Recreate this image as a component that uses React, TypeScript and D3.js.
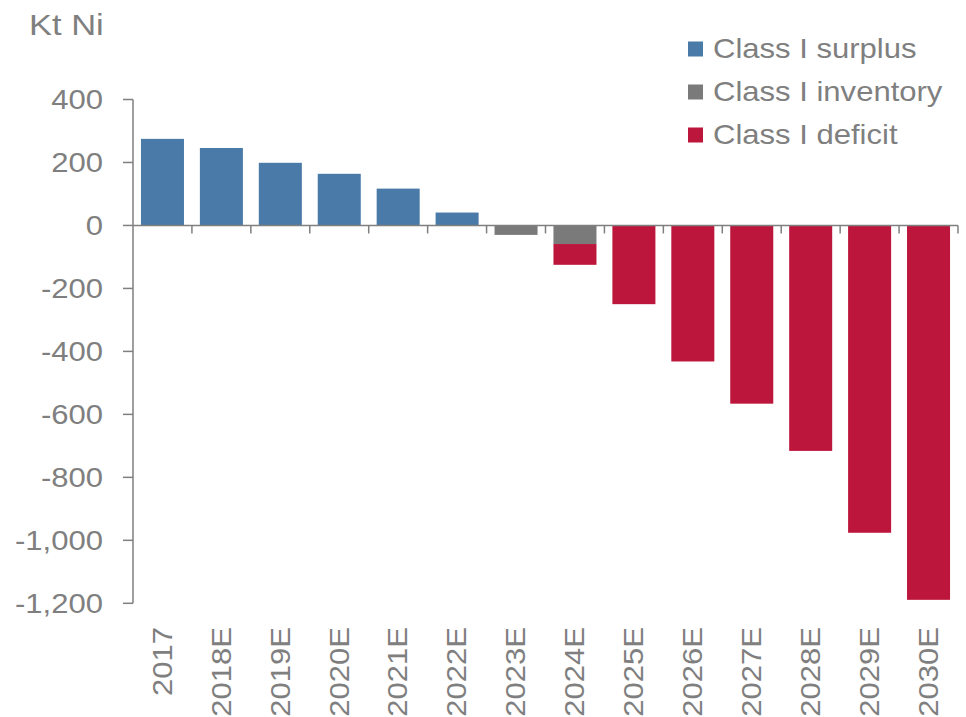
import { useRef, useEffect } from "react";
import * as d3 from "d3";

const years = ["2017", "2018E", "2019E", "2020E", "2021E", "2022E", "2023E", "2024E", "2025E", "2026E", "2027E", "2028E", "2029E", "2030E"];
const surplus = [275, 246, 199, 164, 117, 41, 0, 0, 0, 0, 0, 0, 0, 0];
const inventory = [0, 0, 0, 0, 0, 0, -30, -59, 0, 0, 0, 0, 0, 0];
const deficit = [0, 0, 0, 0, 0, 0, 0, -66, -250, -432, -566, -716, -976, -1189];
const yTicks = [400, 200, 0, -200, -400, -600, -800, -1000, -1200];
const seriesNames = ["Class I surplus", "Class I inventory", "Class I deficit"];
const seriesColors = ["#4a7aa7", "#7a7a7a", "#bd163c"];

const textColor = "#7f7f7f";
const FONT = "'Liberation Sans', Arial, sans-serif";
const SX = 1.15; // reference text is a bit wider than tall

export default function App() {
  const svgRef = useRef(null);

  useEffect(() => {
    const svg = d3.select(svgRef.current);
    svg.selectAll("*").remove();

    const width = 966;
    const height = 717;
    const left = 133, right = 958, top = 99.5, bottom = 603.3;

    const rows = years.map((y, i) => ({ year: y, surplus: surplus[i], inventory: inventory[i], deficit: deficit[i] }));
    const keys = ["surplus", "inventory", "deficit"];
    const stacked = d3.stack().keys(keys).offset(d3.stackOffsetDiverging)(rows);

    const x = d3.scaleBand().domain(years).range([left, right]).paddingInner(0.27).paddingOuter(0.135);
    const y = d3.scaleLinear().domain([-1200, 400]).range([bottom, top]);

    const addText = (g, str, tx, ty, anchor, rot = 0) =>
      g.append("text")
        .attr("transform", `translate(${tx},${ty}) rotate(${rot}) scale(${SX},1)`)
        .attr("text-anchor", anchor)
        .attr("dominant-baseline", "central")
        .attr("fill", textColor)
        .attr("font-family", FONT)
        .attr("font-size", 27)
        .text(str);

    // bars
    stacked.forEach((s, si) => {
      svg.append("g")
        .attr("fill", seriesColors[si])
        .selectAll("rect")
        .data(s.filter(d => d[0] !== d[1]))
        .join("rect")
        .attr("x", d => x(d.data.year))
        .attr("width", x.bandwidth())
        .attr("y", d => y(Math.max(d[0], d[1])))
        .attr("height", d => Math.abs(y(d[0]) - y(d[1])));
    });

    // y axis
    const axis = svg.append("g").attr("stroke", textColor).attr("stroke-width", 1.5);
    axis.append("line").attr("x1", left).attr("x2", left).attr("y1", y(400)).attr("y2", y(-1200));
    yTicks.forEach(t => {
      axis.append("line").attr("x1", left - 10).attr("x2", left).attr("y1", y(t)).attr("y2", y(t));
    });
    // zero line + category ticks
    axis.append("line").attr("x1", left).attr("x2", right).attr("y1", y(0)).attr("y2", y(0));
    const step = x.step();
    d3.range(1, years.length + 1).forEach(k => {
      const xx = left + k * step;
      axis.append("line").attr("x1", xx).attr("x2", xx).attr("y1", y(0)).attr("y2", y(0) + 8);
    });

    const labels = svg.append("g");
    const fmt = d3.format(",");
    yTicks.forEach(t => addText(labels, fmt(t).replace("\u2212", "-"), 103, y(t), "end"));
    years.forEach(yr => addText(labels, yr, x(yr) + x.bandwidth() / 2, 627, "end", -90));

    // unit
    labels.append("text")
      .attr("transform", `translate(29,35) scale(${SX},1)`)
      .attr("fill", textColor)
      .attr("font-family", FONT)
      .attr("font-size", 30)
      .text("Kt Ni");

    // legend
    const legend = svg.append("g");
    seriesNames.forEach((name, i) => {
      const cy = 49 + i * 43;
      legend.append("rect").attr("x", 688).attr("y", cy - 7.5).attr("width", 15).attr("height", 15).attr("fill", seriesColors[i]);
      addText(legend, name, 713, cy, "start");
    });

    svg.attr("viewBox", `0 0 ${width} ${height}`);
  }, []);

  return (
    <div style={{ position: "absolute", left: 0, top: 0 }}>
      <svg ref={svgRef} width={966} height={717} style={{ display: "block", background: "#fff" }}></svg>
    </div>
  );
}
